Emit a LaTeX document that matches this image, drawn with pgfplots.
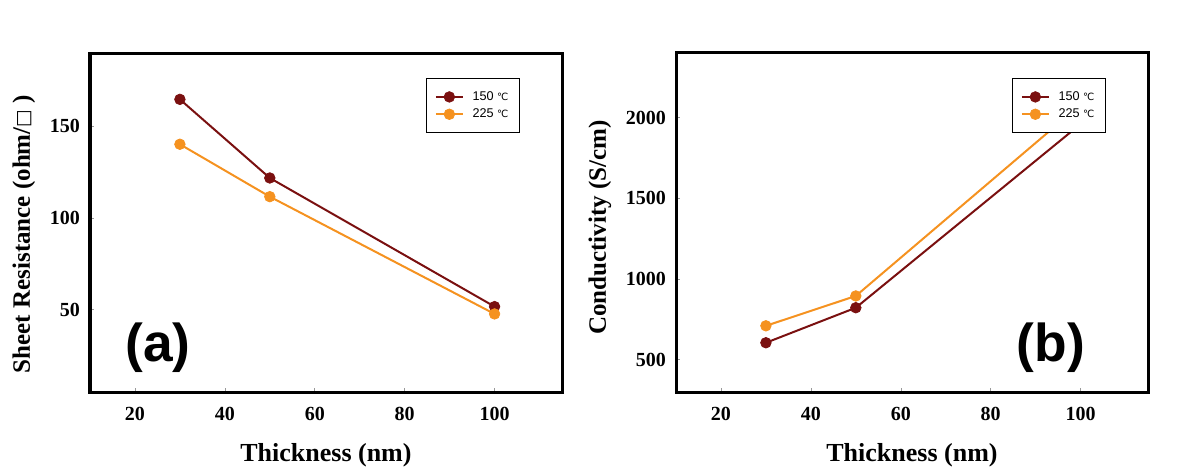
\documentclass[border=0pt]{standalone}
\usepackage{fontspec}
\setmainfont{Liberation Serif}
\newfontfamily\lsans{Liberation Sans}
\newfontfamily\sym{DejaVu Sans}
\usepackage{pgfplots}
\pgfplotsset{compat=1.18}
\definecolor{maroonc}{RGB}{122,16,16}
\definecolor{orngc}{RGB}{245,146,32}
\newcommand{\degc}{{\sym\fontsize{7.5}{9}\selectfont ℃}}
\pgfplotsset{
  myaxis/.style={
    scale only axis,
    width=354pt, height=254.25pt,
    anchor=south west,
    xmin=10, xmax=115,
    xtick={20,40,60,80,100},
    axis line style={line width=2.25pt},
    tick align=inside,
    xtick pos=bottom, ytick pos=left,
    major tick length=3pt,
    tick style={line width=0.4pt, color=black!40},
    /pgf/number format/assume math mode=true,
    /pgf/number format/1000 sep={},
    ticklabel style={font=\fontsize{15}{18}\selectfont\bfseries},
    xticklabel style={yshift=-7.7pt},
    yticklabel style={xshift=-4pt},
    xlabel={Thickness (nm)},
    xlabel style={font=\fontsize{19.5}{22}\selectfont\bfseries, at={(axis description cs:0.5,-0.187)}, anchor=center},
    legend cell align=left,
    legend image code/.code={
      \draw[mark repeat=2,mark phase=2,##1] plot coordinates {(0pt,0pt) (10.1pt,0pt) (20.25pt,0pt)};
    },
    legend style={
      at={(axis description cs:0.712,0.926)}, anchor=north west,
      draw=black, line width=0.75pt, fill=white,
      font=\lsans\fontsize{9.5}{11}\selectfont,
      inner xsep=6.25pt, inner ysep=7.25pt,
      nodes={inner sep=2pt, text height=7pt, text depth=2pt},
      row sep=0pt,
    },
  },
  s150/.style={color=maroonc, line width=1.5pt, mark=*, mark size=4pt, mark options={fill=maroonc, draw=maroonc, line width=0.5pt}},
  s225/.style={color=orngc, line width=1.5pt, mark=*, mark size=4pt, mark options={fill=orngc, draw=orngc, line width=0.5pt}},
}
\begin{document}
\begin{tikzpicture}
\useasboundingbox (0pt,0pt) rectangle (900pt,356.25pt);
% ---------- (a) ----------
\begin{axis}[myaxis,
  at={(67.5pt,62.25pt)},
  ymin=5, ymax=190,
  ytick={50,100,150},
  ylabel={Sheet Resistance (ohm/{\sym\fontsize{14}{16}\selectfont □} )},
  ylabel style={font=\fontsize{18.75}{22}\selectfont\bfseries, at={(axis description cs:-0.140,0.466)}, anchor=center},
]
\addplot[s150] coordinates {(30,164.7) (50,121.8) (100,51.6)};
\addlegendentry{\hspace*{4.5pt}150 \degc\hspace{2pt}}
\addplot[s225] coordinates {(30,140.2) (50,111.6) (100,47.6)};
\addlegendentry{\hspace*{4.5pt}225 \degc\hspace{2pt}}
\node[font=\lsans\bfseries\fontsize{40}{44}\selectfont] at (axis description cs:0.144,0.131) {(a)};
\end{axis}
% ---------- (b) ----------
\begin{axis}[myaxis,
  at={(507pt,62.25pt)},
  ymin=300, ymax=2400,
  ytick={500,1000,1500,2000},
  ylabel={Conductivity (S/cm)},
  ylabel style={font=\fontsize{18.75}{22}\selectfont\bfseries, at={(axis description cs:-0.161,0.485)}, anchor=center},
]
\addplot[s150] coordinates {(30,605) (50,822) (100,1960)};
\addlegendentry{\hspace*{4.5pt}150 \degc\hspace{2pt}}
\addplot[s225] coordinates {(30,710) (50,895) (100,2080)};
\addlegendentry{\hspace*{4.5pt}225 \degc\hspace{2pt}}
\node[font=\lsans\bfseries\fontsize{40}{44}\selectfont] at (axis description cs:0.794,0.131) {(b)};
\end{axis}
\end{tikzpicture}
\end{document}
